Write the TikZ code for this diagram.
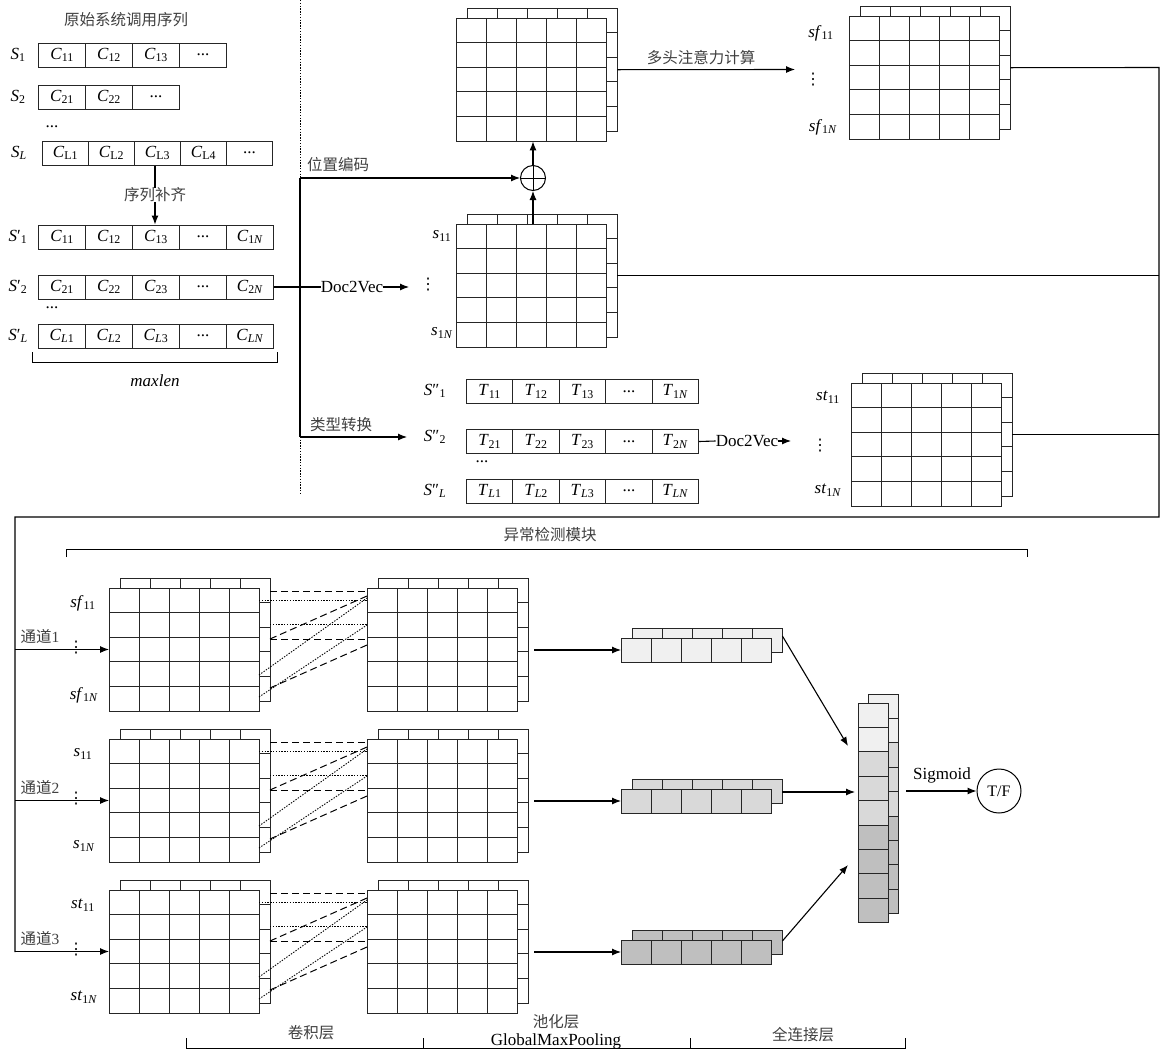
\documentclass[tikz,border=0pt]{standalone}
\usepackage{fontspec}
\setmainfont{Liberation Serif}
\newfontfamily\cjk{Noto Sans CJK SC}
\newfontfamily\dv{DejaVu Sans}
\usetikzlibrary{arrows.meta}
\definecolor{cL}{HTML}{F0F0F0}
\definecolor{cM}{HTML}{D9D9D9}
\definecolor{cD}{HTML}{BFBFBF}
\newcommand\V[2]{\textit{#1}\textsubscript{#2}}
\newcommand\dd{...}
\newcommand\vd{{\dv\fontsize{16}{16}\selectfont ⋮}}
\tikzset{
  g/.style={line width=1pt, draw=black!85},
  cell/.style={draw=black!85, line width=1pt, minimum height=24pt, inner sep=0pt, anchor=west, font=\fontsize{17}{17}\selectfont},
  lbl/.style={inner sep=0pt, font=\fontsize{17}{17}\selectfont},
  cjkt/.style={inner sep=0pt, font=\cjk\fontsize{15.5}{17}\selectfont, text=black!75},
  arr/.style={-{Latex[length=9pt,width=7pt]}, line width=1.1pt},
  ln/.style={line width=1.1pt},
  dsh/.style={line width=1pt, dash pattern=on 7pt off 4pt},
  dot/.style={line width=0.9pt, dash pattern=on 1.4pt off 1.4pt},
}
\newcommand\crow[5]{%
  \foreach \t [count=\k] in {#5} {
    \node[cell, minimum width=#4 pt] (#1\k) at ({#2+(\k-1)*#4}, #3) {\t};
  }%
}
\newcommand\gmat[4]{%
  \foreach \dx/\dy in {11/-10, 0/0} {
    \begin{scope}[shift={(#2+\dx,#3+\dy)}]
      \filldraw[g, fill=#4] (0,0) rectangle (150,123);
      \foreach \i in {1,...,4} {
        \draw[g] (\i*30,0) -- (\i*30,123);
        \draw[g] (0,\i*24.6) -- (150,\i*24.6);
      }
    \end{scope}
  }
  \node[inner sep=0, minimum width=150pt, minimum height=123pt, anchor=north west] (#1) at (#2,#3) {};
  \node[inner sep=0, minimum width=150pt, minimum height=123pt, anchor=north west] (#1b) at (#2+11,#3-10) {};
}
\newcommand\pvec[4]{%
  \foreach \dx/\dy in {11/-10, 0/0} {
    \begin{scope}[shift={(#2+\dx,#3+\dy)}]
      \filldraw[g, fill=#4] (0,0) rectangle (150,24);
      \foreach \i in {1,...,4} {\draw[g] (\i*30,0) -- (\i*30,24);}
    \end{scope}
  }
  \node[inner sep=0, minimum width=150pt, minimum height=24pt, anchor=north west] (#1) at (#2,#3) {};
  \node[inner sep=0, minimum width=150pt, minimum height=24pt, anchor=north west] (#1b) at (#2+11,#3-10) {};
}
\begin{document}
\begin{tikzpicture}[x=1pt,y=-1pt]
\useasboundingbox[fill=white] (0,0) rectangle (1168,1050);

% ---------- top left: original sequences ----------
\node[cjkt] (t0) at (126,20) {原始系统调用序列};
\node[lbl] (lS1) at (18,55) {\V{S}{1}};
\crow{a}{38}{55}{47}{\V{C}{11},\V{C}{12},\V{C}{13},\dd}
\node[lbl] (lS2) at (18,97) {\V{S}{2}};
\crow{b}{38}{97}{47}{\V{C}{21},\V{C}{22},\dd}
\node[lbl] (dots1) at (52,127) {\dd};
\node[lbl] (lSL) at (19,153) {\V{S}{\textit{L}}};
\crow{c}{42}{153}{46}{\V{C}{L1},\V{C}{L2},\V{C}{L3},\V{C}{L4},\dd}

\node[cjkt] (pad) at (155,195) {序列补齐};
\draw[ln] (pad.north |- c3.south) -- (pad.north);
\crow{d}{38}{237}{47}{\V{C}{11},\V{C}{12},\V{C}{13},\dd,\V{C}{1\textit{N}}}
\draw[arr] (pad.south) -- (pad.south |- d3.north);

\node[lbl] (lSp1) at (18,237) {\textit{S}′\textsubscript{1}};
\node[lbl] (lSp2) at (18,287) {\textit{S}′\textsubscript{2}};
\crow{e}{38}{287}{47}{\V{C}{21},\V{C}{22},\V{C}{23},\dd,\V{C}{2\textit{N}}}
\node[lbl] (dots2) at (52,308) {\dd};
\node[lbl] (lSpL) at (18,336) {\textit{S}′\textsubscript{\textit{L}}};
\crow{f}{38}{336}{47}{\V{C}{\textit{L}1},\V{C}{\textit{L}2},\V{C}{\textit{L}3},\dd,\V{C}{\textit{LN}}}
\coordinate (bl) at (32,352);
\coordinate (br) at (277,352);
\draw[line width=1pt] (bl) -- ++(0,10) -| (br);
\node[lbl, font=\itshape\fontsize{17}{17}\selectfont] (maxlen) at (155,381) {maxlen};

% ---------- separators ----------
\coordinate (vt) at (300,0);
\coordinate (vb) at (300,495);
\draw[dot, line width=0.8pt] (vt) -- (vb);
\coordinate (vA) at (300,178);
\coordinate (vB) at (300,437);
\draw[ln] (vA) -- (vB);

% ---------- embeddings ----------
\gmat{A}{456}{18}{white}
\gmat{S}{456}{224}{white}
\gmat{SF}{849}{16}{white}
\gmat{ST}{851}{383}{white}

\node[draw, circle, line width=1pt, minimum size=25pt, inner sep=0] (plus) at (533,178) {};
\draw[line width=1pt] (plus.north) -- (plus.south) (plus.west) -- (plus.east);
\draw[arr] (plus.north) -- (plus.north |- A.south);
\draw[arr] (plus.south |- S.north) -- (plus.south);
\draw[arr] (vA) -- (plus.west);
\node[cjkt] (pos) at (338,165) {位置编码};

\node[lbl] (d2v1) at (352,287) {Doc2Vec};
\coordinate (sin) at (409,287);
\draw[ln] (e5.east) -- (d2v1.west);
\draw[arr] (d2v1.east) -- (sin);
\node[lbl] (ls11) at (442,236) {\V{\textit{s}}{11}};
\node[lbl] (lsv) at (428,285) {\vd};
\node[lbl] (ls1N) at (442,333) {\V{\textit{s}}{1\textit{N}}};

\node[cjkt] (mha) at (701,58) {多头注意力计算};
\coordinate (sfin) at (795,69.5);
\draw[arr] (Ab.east) -- (sfin);
\node[lbl] (lsf11) at (821,33) {\V{\textit{sf}}{11}};
\node[lbl] (lsfv) at (813,80) {\vd};
\node[lbl] (lsf1N) at (823,127) {\V{\textit{sf}}{1\textit{N}}};

% type conversion
\node[cjkt] (typ) at (341,425) {类型转换};
\coordinate (tin) at (407,437);
\draw[arr] (vB) -- (tin);
\node[lbl] (lT1) at (435,391) {\textit{S}″\textsubscript{1}};
\crow{g}{466}{391.5}{46.4}{\V{T}{11},\V{T}{12},\V{T}{13},\dd,\V{T}{1\textit{N}}}
\node[lbl] (lT2) at (435,437) {\textit{S}″\textsubscript{2}};
\crow{h}{466}{441.5}{46.4}{\V{T}{21},\V{T}{22},\V{T}{23},\dd,\V{T}{2\textit{N}}}
\node[lbl] (dots3) at (482,462) {\dd};
\node[lbl] (lTL) at (435,491) {\textit{S}″\textsubscript{\textit{L}}};
\crow{i}{466}{491}{46.4}{\V{T}{\textit{L}1},\V{T}{\textit{L}2},\V{T}{\textit{L}3},\dd,\V{T}{\textit{LN}}}
\node[lbl] (d2v2) at (747,441) {Doc2Vec};
\coordinate (stin) at (791,441);
\draw[ln] (h5.east) -- (d2v2.west);
\draw[arr] (d2v2.east) -- (stin);
\node[lbl] (lst11) at (828,397) {\V{\textit{st}}{11}};
\node[lbl] (lstv) at (820,446) {\vd};
\node[lbl] (lst1N) at (828,490) {\V{\textit{st}}{1\textit{N}}};

% ---------- bus ----------
\coordinate (bus1) at (1159,67.5);
\coordinate (bus2) at (1159,517);
\coordinate (bus3) at (15,517);
\coordinate (bus4) at (15,952);
\draw[ln] (SFb.east) -- (bus1) -- (bus2) -- (bus3) -- (bus4);
\draw[ln] (Sb.east) -- (Sb.east -| bus1);
\draw[ln] (STb.east) -- (STb.east -| bus1);

% ---------- anomaly detection module ----------
\node[cjkt] (adm) at (550,535) {异常检测模块};
\coordinate (ml) at (66,557);
\coordinate (mr) at (1027,557);
\draw[line width=1pt] (ml) -- ++(0,-8) -| (mr);

\foreach \k/\lab in {0/sf, 1/s, 2/st} {
  \pgfmathsetmacro\oy{151*\k}
  \gmat{CI\k}{109}{588+\oy}{white}
  \gmat{CO\k}{367}{588+\oy}{white}
  \coordinate (ch\k) at (15,649.5+\oy);
  \draw[arr] (ch\k) -- (ch\k -| CI\k.west);
  \node[lbl] (cv\k) at (76,648+\oy) {\vd};
  \node[lbl] (ca\k) at (83,603+\oy) {\V{\textit{\lab}}{11}};
  \node[lbl] (cb\k) at (84,695+\oy) {\V{\textit{\lab}}{1\textit{N}}};
  % kernel connectors
  \draw[dsh] (270,591+\oy) -- (367,591+\oy);
  \draw[dsh] (270,639+\oy) -- (367,596+\oy);
  \draw[dsh] (270,639+\oy) -- (367,639+\oy);
  \draw[dsh] (270,688+\oy) -- (367,645+\oy);
  \draw[dot] (259,600+\oy) -- (367,600+\oy);
  \draw[dot] (259,675+\oy) -- (367,598+\oy);
  \draw[dot] (270,624+\oy) -- (367,624+\oy);
  \draw[dot] (259,697+\oy) -- (367,625+\oy);
}
\node[cjkt] (chl0) at (40,636) {通道\fontspec{Liberation Serif}1};
\node[cjkt] (chl1) at (40,787) {通道\fontspec{Liberation Serif}2};
\node[cjkt] (chl2) at (40,938) {通道\fontspec{Liberation Serif}3};

\pvec{P0}{621}{638}{cL}
\pvec{P1}{621}{789}{cM}
\pvec{P2}{621}{940}{cD}
\foreach \k in {0,1,2} {
  \pgfmathsetmacro\oy{151*\k}
  \coordinate (po\k) at (534,650+\oy);
  \draw[arr] (po\k) -- (po\k -| P\k.west);
}

% ---------- fully connected ----------
\foreach \dx/\dy in {10/-9,0/0} {
  \foreach \c [count=\k from 0] in {cL,cL,cM,cM,cM,cD,cD,cD,cD} {
    \filldraw[g, fill=\c] (858+\dx, 703+\dy+\k*24.4) rectangle ++(30,24.4);
  }
}
\node[inner sep=0, minimum width=30pt, minimum height=219.6pt, anchor=north west] (FC) at (858,703) {};
\coordinate (fc1) at (848,746);
\coordinate (fc2) at (855,792);
\coordinate (fc3) at (848,865);
\draw[arr] (P0b.north east) ++(0,8) -- (fc1);
\draw[arr] (P1b.east |- fc2) -- (fc2);
\draw[arr] (P2b.north east) ++(0,11) -- (fc3);

\node[draw, circle, line width=1pt, minimum size=44pt, inner sep=0, font=\fontsize{16}{16}\selectfont] (tf) at (999,791) {T/F};
\coordinate (sg) at (906,791);
\draw[arr] (sg) -- (tf.west);
\node[lbl] (sig) at (942,775) {Sigmoid};

% ---------- bottom bracket ----------
\coordinate (b1) at (186,1038);
\coordinate (b2) at (423,1038);
\coordinate (b3) at (690,1038);
\coordinate (b4) at (905,1038);
\draw[line width=1pt] (b1) -- ++(0,10) -| (b4);
\draw[line width=1pt] (b2) -- ++(0,10);
\draw[line width=1pt] (b3) -- ++(0,10);
\node[cjkt] (conv) at (311,1033) {卷积层};
\node[cjkt] (pool) at (556,1022) {池化层};
\node[lbl] (gmp) at (556,1041) {GlobalMaxPooling};
\node[cjkt] (fcl) at (803,1035) {全连接层};
\end{tikzpicture}
\end{document}
